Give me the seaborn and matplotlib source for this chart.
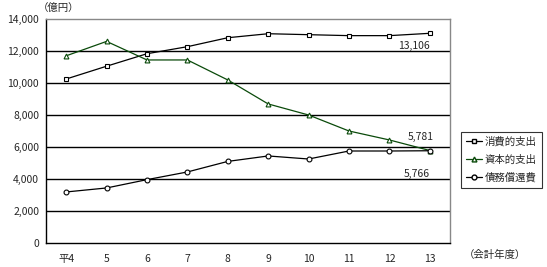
import matplotlib
matplotlib.use("Agg")
import matplotlib.pyplot as plt
import seaborn as sns
import pandas as pd
import numpy as np
from matplotlib.lines import Line2D

years = ["平4", "5", "6", "7", "8", "9", "10", "11", "12", "13"]
consumption = [10250, 11050, 11830, 12270, 12830, 13080, 13020, 12960, 12960, 13106]
capital = [11700, 12600, 11440, 11440, 10190, 8690, 8000, 7000, 6440, 5781]
debt = [3190, 3440, 3960, 4440, 5100, 5440, 5250, 5750, 5750, 5766]
series_names = ["消費的支出", "資本的支出", "債務償還費"]
yticks = [0, 2000, 4000, 6000, 8000, 10000, 12000, 14000]
ytick_labels = ["0", "2,000", "4,000", "6,000", "8,000", "10,000", "12,000", "14,000"]

sns.set_theme(style="white")
plt.rcParams['font.family'] = ['Noto Sans CJK JP', 'DejaVu Sans']

df = pd.DataFrame({
    "x": list(range(len(years))) * 3,
    "value": consumption + capital + debt,
    "series": [series_names[0]] * len(years) + [series_names[1]] * len(years) + [series_names[2]] * len(years),
})

fig = plt.figure(figsize=(5.47, 2.67), dpi=100)
ax = fig.add_axes([46 / 547, 1 - 243 / 267, 404 / 547, 224 / 267])

palette = {series_names[0]: "black", series_names[1]: "#0a4a0a", series_names[2]: "black"}
markers = {series_names[0]: "s", series_names[1]: "^", series_names[2]: "o"}

for yv in yticks[1:-1]:
    ax.axhline(yv, color="black", lw=1.0, zorder=0)

sns.lineplot(data=df, x="x", y="value", hue="series", style="series",
             palette=palette, markers=markers, dashes=False, ax=ax,
             markersize=3.5, markerfacecolor="white", markeredgewidth=0.8,
             linewidth=0.9, legend=False)
for line, name in zip(ax.lines[-3:], series_names):
    line.set_markeredgecolor(palette[name])

ax.set_xlim(-0.5, len(years) - 0.5)
ax.set_ylim(0, 14000)
ax.set_xticks(range(len(years)))
ax.set_xticklabels(years, fontsize=7.5)
ax.set_xticks(np.arange(0.5, len(years) - 1, 1.0), minor=True)
ax.tick_params(axis="x", which="major", length=0, pad=8)
ax.tick_params(axis="x", which="minor", length=3, direction="in", color="black", width=0.8)
ax.set_yticks(yticks)
ax.set_yticklabels(ytick_labels, fontsize=7.5)
ax.tick_params(axis="y", length=0, pad=5)
ax.set_xlabel("")
ax.set_ylabel("")

for side in ["left", "bottom"]:
    ax.spines[side].set_color("black")
    ax.spines[side].set_linewidth(1.0)
for side in ["top", "right"]:
    ax.spines[side].set_color("#888888")
    ax.spines[side].set_linewidth(1.0)

ax.text(9, 12320, "13,106", fontsize=7.5, ha="right", va="center")
ax.text(9.1, 6600, "5,781", fontsize=7.5, ha="right", va="center")
ax.text(9, 4300, "5,766", fontsize=7.5, ha="right", va="center")

fig.text(38 / 547, 1 - 8 / 267, "（億円）", fontsize=7.5, ha="left", va="center")
fig.text(464 / 547, 1 - 255 / 267, "（会計年度）", fontsize=7.5, ha="left", va="center")

handles = [Line2D([0], [0], color=palette[n], marker=markers[n], markersize=3.5,
                  markerfacecolor="white", markeredgecolor=palette[n], lw=0.9)
           for n in series_names]
leg = fig.legend(handles, series_names, loc="upper left",
                 bbox_to_anchor=(461 / 547, 1 - 132 / 267), fontsize=7.5,
                 frameon=True, fancybox=False, handlelength=1.6, handletextpad=0.25,
                 borderpad=0.45, labelspacing=0.75, borderaxespad=0)
leg.get_frame().set_edgecolor("black")
leg.get_frame().set_linewidth(0.8)
leg._legend_box.sep = 0
for t in leg.get_texts():
    pass

fig.savefig("out.png", dpi=100)
